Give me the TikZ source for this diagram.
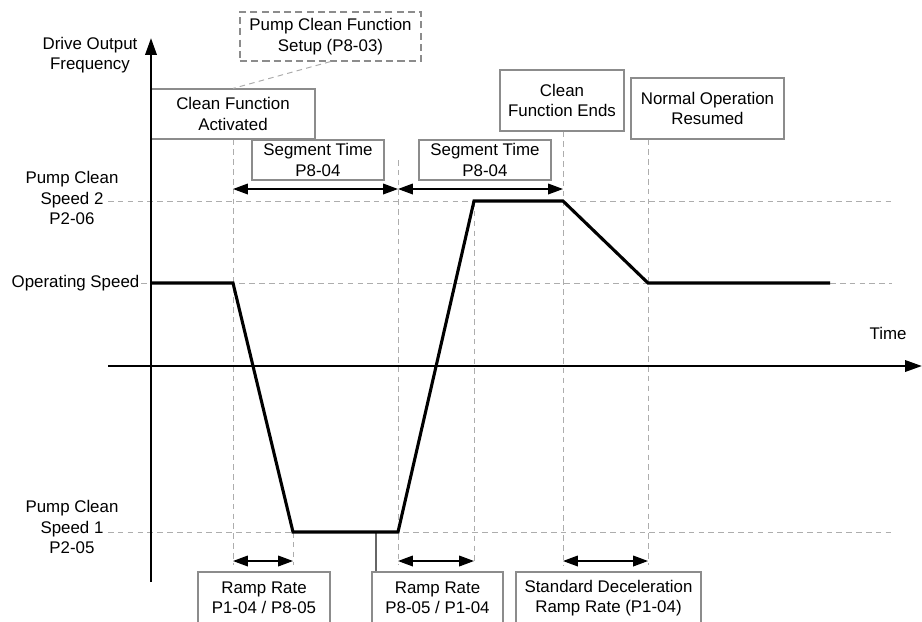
\documentclass[tikz,border=0pt]{standalone}
\usepackage{fontspec}
\setmainfont{Liberation Sans}
\usetikzlibrary{arrows.meta}

\tikzset{
  guide/.style={draw=black!32,dash pattern=on 4pt off 3pt,line width=0.7pt},
  infobox/.style={draw=black!45,line width=0.8pt,align=center,inner sep=0pt,
    font=\fontsize{12}{14.5}\selectfont},
  lbl/.style={align=center,inner sep=1pt,font=\fontsize{12}{14.5}\selectfont},
  span/.style={{Triangle[length=10.5pt,width=7.5pt]}-{Triangle[length=10.5pt,width=7.5pt]},line width=1.1pt},
  axis/.style={line width=1.8pt,-{Triangle[length=12pt,width=8pt]}},
  speed/.style={line width=2.2pt}
}

\begin{document}
\begin{tikzpicture}[x=0.025cm,y=-0.025cm]
\clip (0,0) rectangle (922,621);

% labels on the left
\node[lbl] (yname) at (90,55) {Drive Output\\Frequency};
\node[lbl] (sp2) at (72,198) {Pump Clean\\Speed 2\\P2-06};
\node[lbl,anchor=east] (opsp) at (141,283) {Operating Speed};
\node[lbl] (sp1) at (72,527) {Pump Clean\\Speed 1\\P2-05};
\node[lbl] (tname) at (888,333) {Time};

% boxes
\node[infobox,dash pattern=on 5pt off 3pt,minimum width=4.525cm,minimum height=1.225cm] (setup) at (330.5,36.5) {Pump Clean Function\\Setup (P8-03)};
\node[infobox,minimum width=4.1cm,minimum height=1.25cm] (act) at (233,114) {Clean Function\\Activated};
\node[infobox,minimum width=3.3cm,minimum height=1cm] (seg1) at (318,160) {Segment Time\\P8-04};
\node[infobox,minimum width=3.3cm,minimum height=1cm] (seg2) at (485,160) {Segment Time\\P8-04};
\node[infobox,minimum width=3.1cm,minimum height=1.525cm] (ends) at (562,100.5) {Clean\\Function Ends};
\node[infobox,minimum width=3.825cm,minimum height=1.525cm] (resume) at (707.5,108.5) {Normal Operation\\Resumed};
\node[infobox,minimum width=3.3cm,minimum height=1.3cm] (ramp1) at (264,598) {Ramp Rate\\P1-04 / P8-05};
\node[infobox,minimum width=3.275cm,minimum height=1.3cm] (ramp2) at (437.5,598) {Ramp Rate\\P8-05 / P1-04};
\node[infobox,minimum width=4.625cm,minimum height=1.3cm] (decel) at (608.5,598) {Standard Deceleration\\Ramp Rate (P1-04)};

% speed profile points
\coordinate (c0) at (151,283);
\coordinate (c1) at (233,283);
\coordinate (c2) at (293,532);
\coordinate (c3) at (398,532);
\coordinate (c4) at (474,201);
\coordinate (c5) at (563,201);
\coordinate (c6) at (648,283);
\coordinate (c7) at (830,283);

% guide lines
\draw[guide] (108,201) -- (892,201);
\draw[guide] (opsp.east) -- (892,283);
\draw[guide] (108,532) -- (892,532);
\draw[guide] (setup.south) -- (act.north);
\draw[guide] (act.south) -- (233,565);
\draw[guide] (c2) -- (293,565);
\draw[guide] (398,160) -- (398,565);
\draw[guide] (c4) -- (474,565);
\draw[guide] (ends.south -| c5) -- (563,565);
\draw[guide] (resume.south -| c6) -- (648,565);

% time spans
\draw[span] (233,189) -- (398,189);
\draw[span] (398,189) -- (563,189);
\draw[span] (233,561) -- (293,561);
\draw[span] (398,561) -- (474,561);
\draw[span] (563,561) -- (648,561);

% axes
\draw[axis] (151,582) -- (151,38);
\draw[axis] (108,366) -- (922,366);

% profile
\coordinate (hold) at (376,532);
\draw[black!60,line width=0.8pt] (hold) -- (hold |- ramp2.north);
\draw[speed] (c0) -- (c1) -- (c2) -- (c3) -- (c4) -- (c5) -- (c6) -- (c7);

\end{tikzpicture}
\end{document}
